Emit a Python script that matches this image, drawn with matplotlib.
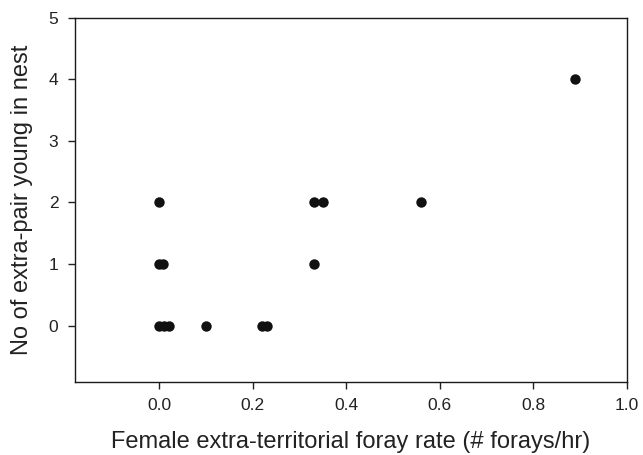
import matplotlib
matplotlib.use("Agg")
import matplotlib.pyplot as plt

# foray rate (forays/hr) and number of extra-pair young in nest
foray_rate = [0.0, 0.0, 0.008, 0.0, 0.01, 0.02, 0.10, 0.22, 0.23,
              0.33, 0.35, 0.33, 0.56, 0.89]
ep_young = [2, 1, 1, 0, 0, 0, 0, 0, 0,
            2, 2, 1, 2, 4]

x_ticks = [0.0, 0.2, 0.4, 0.6, 0.8, 1.0]
y_ticks = [0, 1, 2, 3, 4, 5]

plt.rcParams['font.family'] = ['Liberation Sans', 'DejaVu Sans']

fig = plt.figure(figsize=(6.43, 4.55), dpi=100)
ax = fig.add_axes([0.1166, 0.161, 0.975 - 0.1166, 0.9615 - 0.161])

ax.plot(foray_rate, ep_young, 'o', color='#111111', markersize=7.5,
        markeredgewidth=0, linestyle='none')

ax.set_xlim(-0.18, 1.0)
ax.set_ylim(-0.91, 5)
ax.set_xticks(x_ticks)
ax.set_xticklabels([f"{t:.1f}" for t in x_ticks])
ax.set_yticks(y_ticks)
ax.tick_params(direction='out', length=5, width=1, labelsize=12.5,
               colors='#222222', pad=7)
for s in ax.spines.values():
    s.set_linewidth(1.0)
    s.set_color('#1a1a1a')

ax.set_xlabel('Female extra-territorial foray rate (# forays/hr)',
              fontsize=17, color='#222222', labelpad=13)
ax.set_ylabel('No of extra-pair young in nest', fontsize=17,
              color='#222222', labelpad=11)

fig.savefig('out.png', dpi=100)
